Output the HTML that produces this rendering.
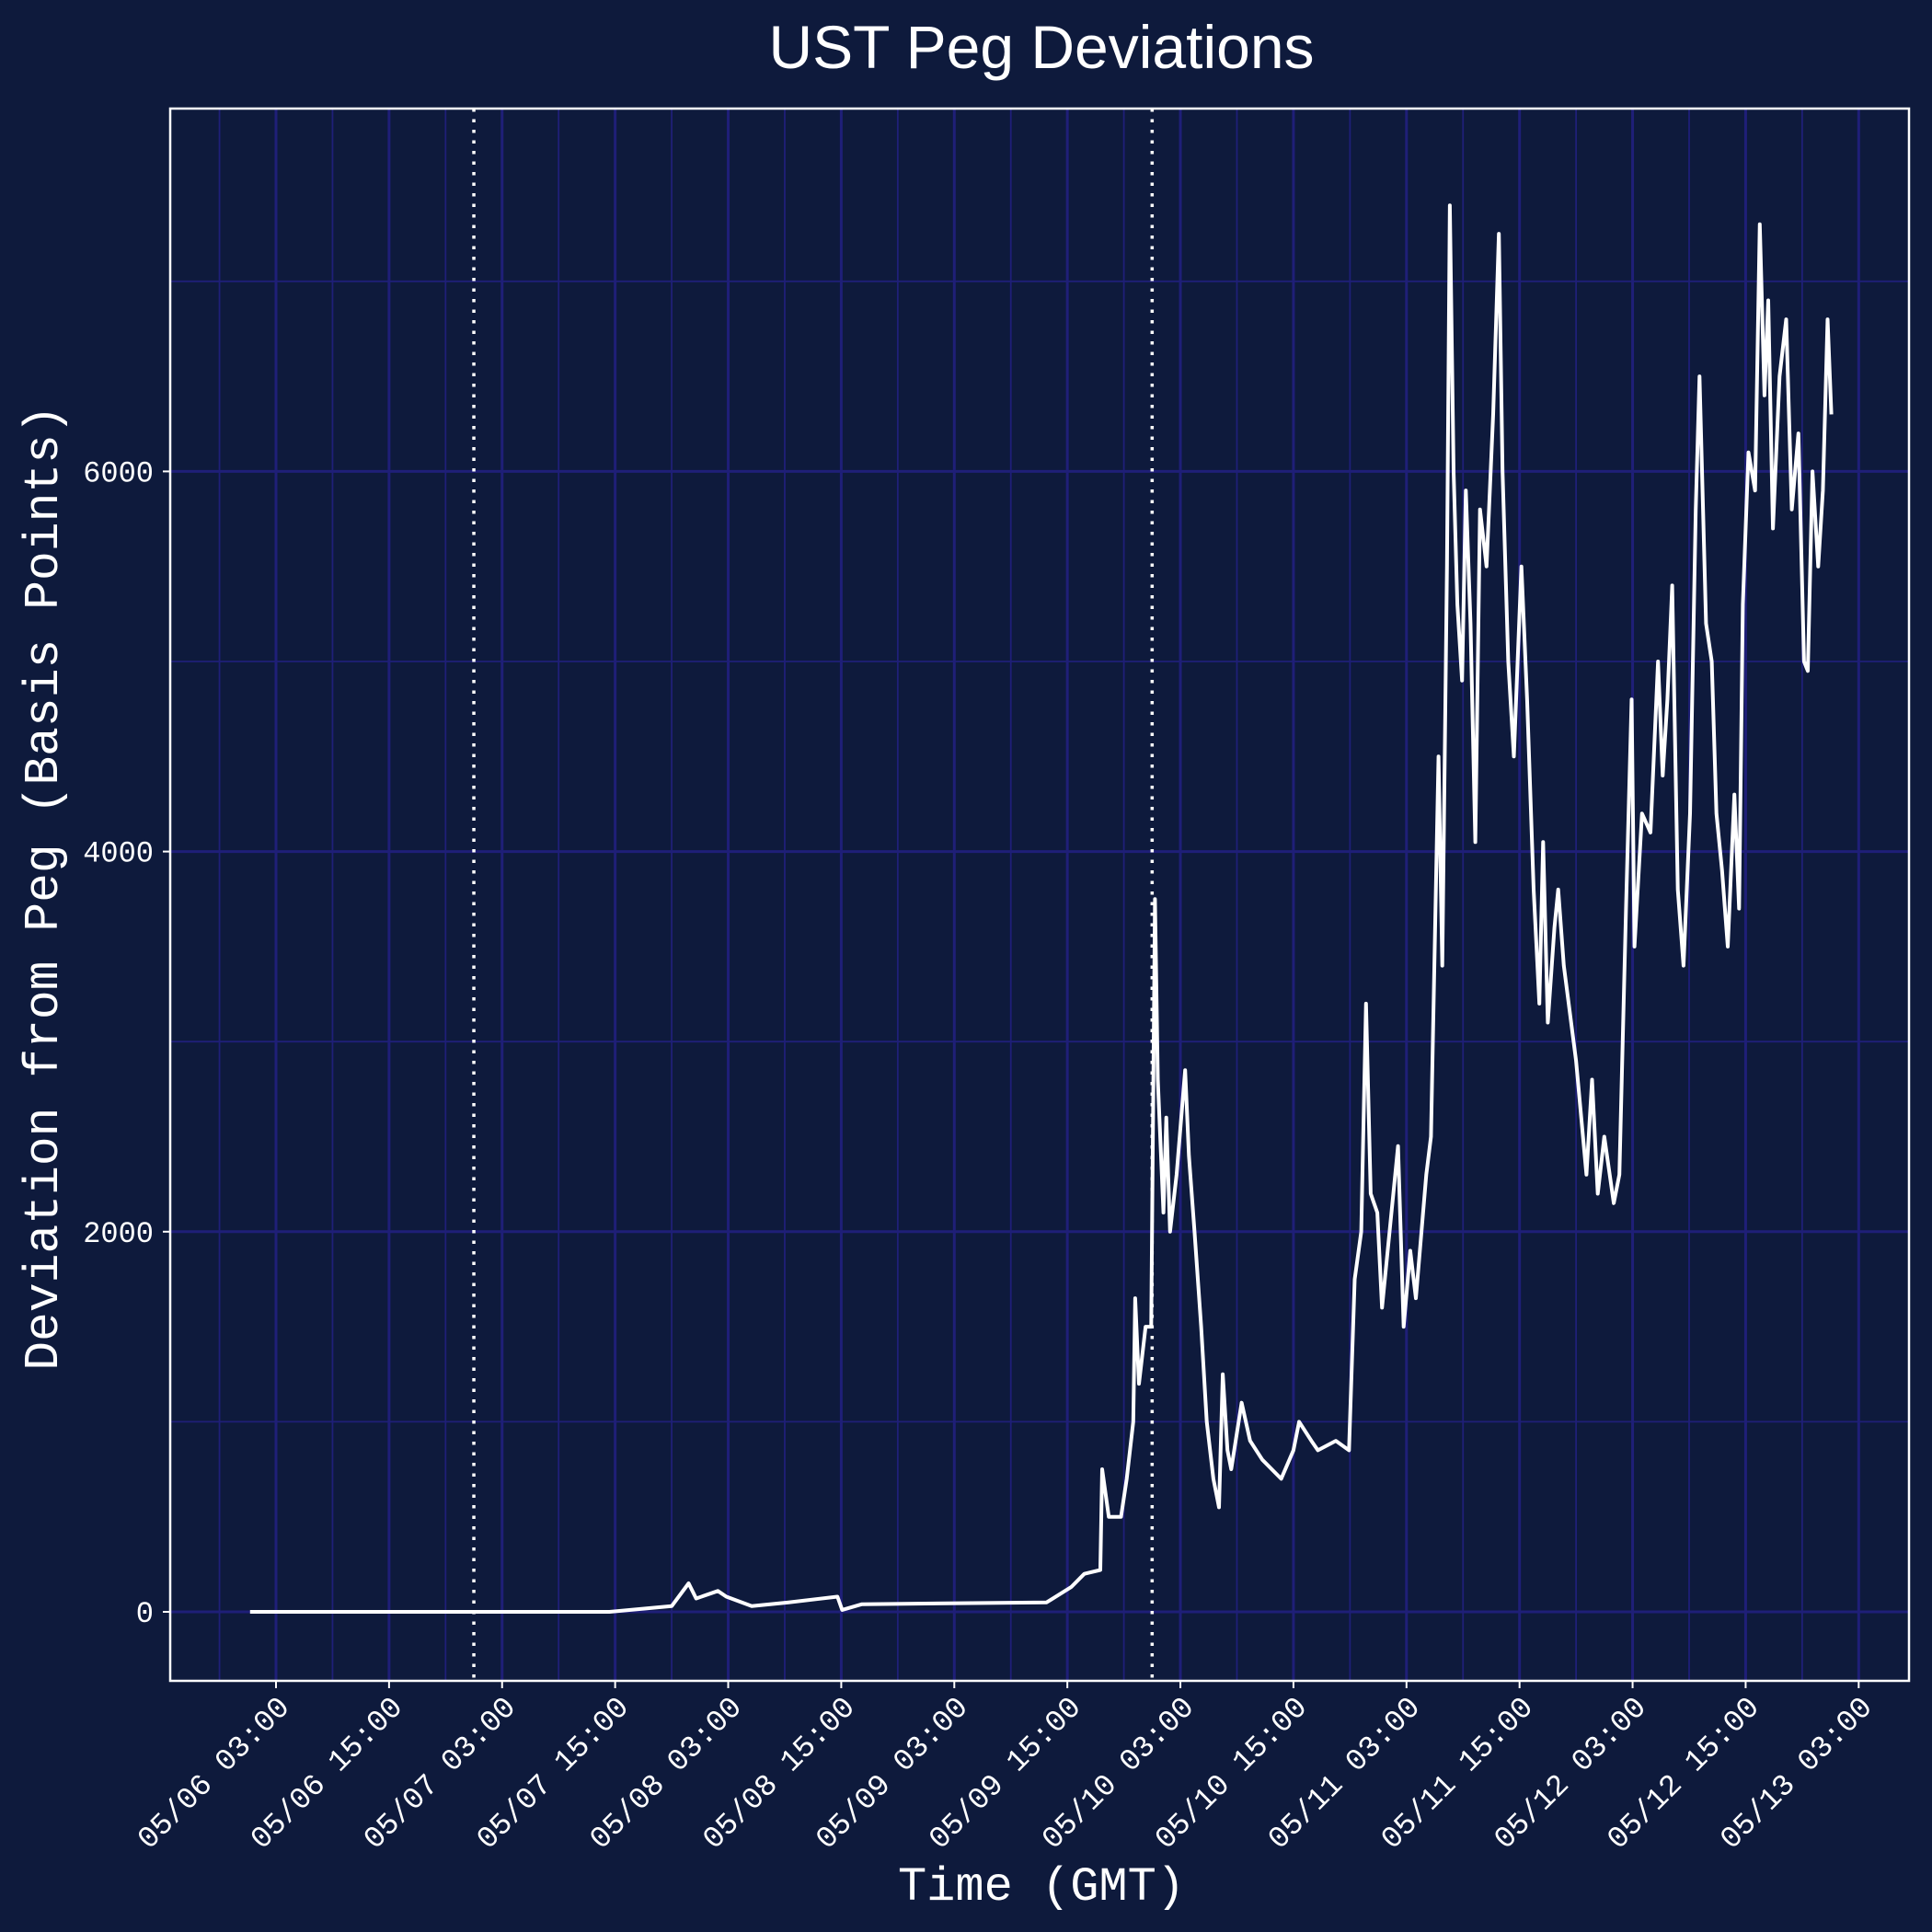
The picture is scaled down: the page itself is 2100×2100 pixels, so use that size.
<!DOCTYPE html>
<html><head><meta charset="utf-8"><style>
html,body{margin:0;padding:0;background:#0e1a3c;}
svg{display:block}
text{fill:#fff}
</style></head><body>
<svg id="chart" width="2100" height="2100" viewBox="0 0 2100 2100">
<rect x="0" y="0" width="2100" height="2100" fill="#0e1a3c"/>
<text x="1132" y="74" text-anchor="middle" font-family="Liberation Sans, sans-serif" font-size="66">UST Peg Deviations</text>
<g id="grid"></g>
<g id="vlines"></g>
<g id="series"></g>
<rect x="185" y="118" width="1890" height="1709" fill="none" stroke="#fff" stroke-width="2.5"/>
<g id="xticks"></g>
<g id="yticks"></g>
<text x="1132" y="2065" text-anchor="middle" font-family="Liberation Mono, monospace" font-size="52">Time (GMT)</text>
<text transform="translate(62,965) rotate(-90)" text-anchor="middle" font-family="Liberation Mono, monospace" font-size="53">Deviation from Peg (Basis Points)</text>
</svg>
<script>
// hours since 05/06 00:00 GMT
const hours = [0.25,38.4,45,46.8,47.6,49.9,50.8,53.5,57.4,62.6,63.1,65.2,84.8,87.4,88.8,90.5,90.7,91.4,92.7,93.3,94.0,94.2,94.6,95.3,95.9,96.3,96.6,97.2,97.5,97.9,98.6,99.5,99.9,100.5,101.2,101.8,102.5,103.1,103.5,104.0,104.4,105.5,106.4,107.7,109.7,111.0,111.6,112.9,113.6,115.5,116.9,117.5,118.2,118.7,119.2,119.9,120.4,121.2,122.1,122.7,123.4,124.0,125.1,125.6,126.0,126.4,126.8,127.3,127.6,128.0,128.4,128.9,129.3,129.8,130.3,130.8,131.5,132.2,132.8,133.2,133.8,134.4,135.2,135.8,136.5,137.1,137.5,138.0,138.7,139.1,139.7,141.0,142.1,142.7,143.3,144.0,145.0,145.6,146.3,146.9,147.2,148.0,148.9,149.7,150.2,150.7,151.2,151.8,152.4,153.1,153.7,154.1,154.8,155.4,155.9,156.5,157.1,157.8,158.3,158.7,159.3,160.0,160.5,161.0,161.4,161.9,162.6,163.3,163.9,164.6,165.2,165.6,166.1,166.7,167.2,167.7,168.1];
const deviations = [0,0,30,150,70,110,80,30,50,80,10,40,50,130,200,220,750,500,500,700,1000,1650,1200,1500,1500,3750,2800,2100,2600,2000,2300,2850,2400,2000,1500,1000,700,550,1250,850,750,1100,900,800,700,850,1000,900,850,900,850,1750,2000,3200,2200,2100,1600,2000,2450,1500,1900,1650,2300,2500,3500,4500,3400,5500,7400,6000,5300,4900,5900,5200,4050,5800,5500,6300,7250,6000,5000,4500,5500,4800,3800,3200,4050,3100,3600,3800,3400,2900,2300,2800,2200,2500,2150,2300,3700,4800,3500,4200,4100,5000,4400,4800,5400,3800,3400,4200,5800,6500,5200,5000,4200,3900,3500,4300,3700,5300,6100,5900,7300,6400,6900,5700,6500,6800,5800,6200,5000,4950,6000,5500,5900,6800,6300];
const xTickHours = [3,15,27,39,51,63,75,87,99,111,123,135,147,159,171];
const xTickLabels = ["05/06 03:00","05/06 15:00","05/07 03:00","05/07 15:00","05/08 03:00","05/08 15:00","05/09 03:00","05/09 15:00","05/10 03:00","05/10 15:00","05/11 03:00","05/11 15:00","05/12 03:00","05/12 15:00","05/13 03:00"];
const yTicks = [0,2000,4000,6000];
const yMinor = [1000,3000,5000,7000];
const eventHours = [24,96];

const NS="http://www.w3.org/2000/svg";
const L=185,R=2075,T=118,B=1827;
const xs=h=>300+(h-3)*10.24;
const ys=v=>1752-v*0.2066;
function mk(tag,attrs,parent){const e=document.createElementNS(NS,tag);for(const k in attrs)e.setAttribute(k,attrs[k]);parent.appendChild(e);return e;}
const grid=document.getElementById('grid');
const gc="#1f1f78";
xTickHours.forEach(h=>{
  const l=mk('line',{x1:xs(h),x2:xs(h),y1:T,y2:B,stroke:gc,'stroke-width':3},grid);
  
  
  const m=xs(h+6);
  if(m<R){const l2=mk('line',{x1:m,x2:m,y1:T,y2:B,stroke:gc,'stroke-width':1.8},grid);
    
    }
  const m0=xs(h-6);
  if(h===3&&m0>L){const l3=mk('line',{x1:m0,x2:m0,y1:T,y2:B,stroke:gc,'stroke-width':1.8},grid);
    
    }
});
yTicks.forEach(v=>{
  const l=mk('line',{x1:L,x2:R,y1:ys(v),y2:ys(v),stroke:gc,'stroke-width':3},grid);
  
  
});
yMinor.forEach(v=>{
  const l=mk('line',{x1:L,x2:R,y1:ys(v),y2:ys(v),stroke:gc,'stroke-width':1.8},grid);
  
  
});
const vl=document.getElementById('vlines');
eventHours.forEach(h=>{
  const l=mk('line',{x1:xs(h),x2:xs(h),y1:T,y2:B,stroke:'#fff','stroke-width':3.5,'stroke-dasharray':'3.5,8'},vl);
  
  
});
const pts=hours.map((h,i)=>xs(h).toFixed(1)+','+ys(deviations[i]).toFixed(1)).join(' ');
const pl=mk('polyline',{points:pts,fill:'none',stroke:'#fff','stroke-width':4,'stroke-linejoin':'round'},document.getElementById('series'));


const xt=document.getElementById('xticks');
xTickHours.forEach((h,i)=>{
  const x=xs(h);
  const t=mk('line',{x1:x,x2:x,y1:B,y2:B+8,stroke:'#fff','stroke-width':2},xt);
  
  
  const tx=mk('text',{x:0,y:0,transform:`translate(${x+16},${B+30}) rotate(-45)`,'text-anchor':'end','font-family':'Liberation Mono, monospace','font-size':33},xt);
  tx.textContent=xTickLabels[i];
  
  
});
const yt=document.getElementById('yticks');
yTicks.forEach(v=>{
  const t=mk('line',{x1:L-8,x2:L,y1:ys(v),y2:ys(v),stroke:'#fff','stroke-width':2},yt);
  
  
  const tx=mk('text',{x:L-18,y:ys(v)+11,'text-anchor':'end','font-family':'Liberation Mono, monospace','font-size':32},yt);
  tx.textContent=String(v);
  
  
});
</script>
</body></html>
